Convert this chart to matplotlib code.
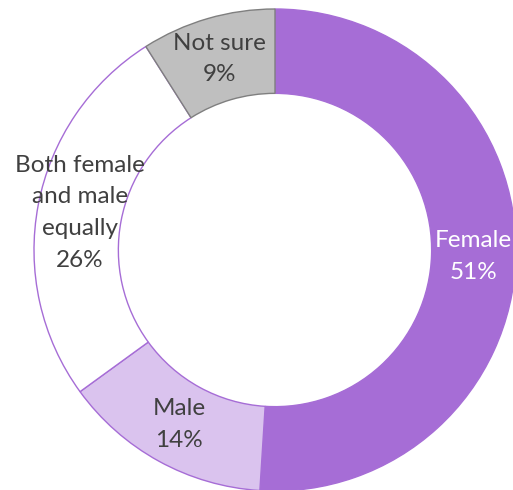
import numpy as np
import matplotlib.pyplot as plt

labels = ["Female", "Male", "Both female\nand male\nequally", "Not sure"]
values = [51, 14, 26, 9]
colors = ["#A66DD6", "#DAC3EE", "#FFFFFF", "#BFBFBF"]
edges = ["#A66DD6", "#A66DD6", "#A66DD6", "#7F7F7F"]
text_colors = ["#FFFFFF", "#404040", "#404040", "#404040"]

plt.rcParams['font.family'] = ['Lato', 'DejaVu Sans']

fig = plt.figure(figsize=(5.13, 4.90), dpi=100)
ax = fig.add_axes([0, 0, 1, 1])

R = 241.0
cx, cy = 275.0, 250.0
inner = 0.65

wedges, _ = ax.pie(values, startangle=90, counterclock=False, radius=1.0,
                   colors=colors, wedgeprops=dict(width=1 - inner, linewidth=1.0))
for w, ec in zip(wedges, edges):
    w.set_edgecolor(ec)

rmid = (1 + inner) / 2
for w, lab, v, tc in zip(wedges, labels, values, text_colors):
    ang = np.deg2rad((w.theta1 + w.theta2) / 2)
    x = rmid * np.cos(ang)
    y = rmid * np.sin(ang)
    ax.text(x, y, "%s\n%d%%" % (lab, v), ha="center", va="center",
            fontsize=17.5, color=tc, linespacing=1.62)

ax.set_xlim(-cx / R, (513 - cx) / R)
ax.set_ylim(-(490 - cy) / R, cy / R)
ax.set_aspect("equal")
ax.axis("off")

fig.savefig("out.png", dpi=100)
